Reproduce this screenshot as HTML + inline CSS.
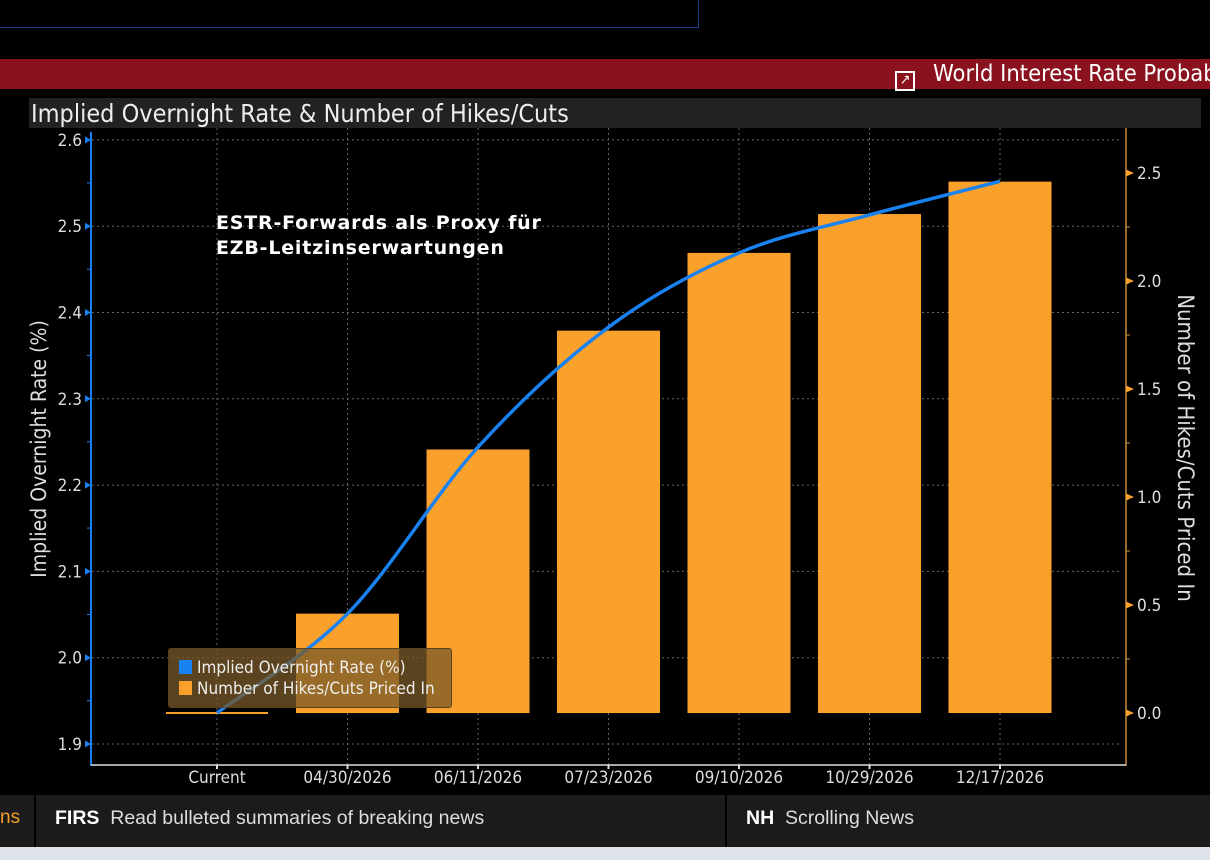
<!DOCTYPE html>
<html><head><meta charset="utf-8">
<style>
body{margin:0;width:1210px;height:860px;background:#000;overflow:hidden;font-family:"Liberation Sans","DejaVu Sans",sans-serif;position:relative}
.abs{position:absolute}
</style></head>
<body>
<div class="abs" style="left:-2px;top:-2px;width:699px;height:29px;border:1px solid #1c3f8a;border-top:none"></div>
<div class="abs" style="left:0;top:59px;width:1210px;height:30px;background:#8a121e"></div>
<div class="abs" style="left:895px;top:59px;color:#fff;font-size:23.5px;white-space:nowrap;font-family:'DejaVu Sans Condensed','Liberation Sans',sans-serif"><span style="display:inline-block;width:20px;height:20px;border:2px solid #fff;box-sizing:border-box;vertical-align:-3px;margin-right:18px;font-size:14px;line-height:14px;text-align:center">&#8599;</span>World Interest Rate Probab</div>
<div class="abs" style="left:29px;top:98px;width:1172px;height:30px;background:#222"></div>
<div class="abs" style="left:31px;top:99px;color:#eee;font-size:25px;font-family:'DejaVu Sans Condensed','Liberation Sans',sans-serif">Implied Overnight Rate &amp; Number of Hikes/Cuts</div>
<svg class="abs" style="left:0;top:0" width="1210" height="860" id="chart"></svg>
<div class="abs" style="left:216px;top:211px;color:#fff;font-weight:bold;font-size:19px;line-height:25px;letter-spacing:0.8px;font-family:'DejaVu Sans','Liberation Sans',sans-serif">ESTR-Forwards als Proxy für<br>EZB-Leitzinserwartungen</div>
<div class="abs" style="left:168px;top:648px;width:282px;height:58px;background:rgba(120,90,40,0.75);border:1px solid #5a4020;border-radius:3px;font-family:'DejaVu Sans Condensed','Liberation Sans',sans-serif;font-size:17px;color:#eee">
 <div style="position:absolute;left:10px;top:9px;white-space:nowrap"><span style="display:inline-block;width:13px;height:14px;background:#1a82f0;vertical-align:-1px;margin-right:5px"></span>Implied Overnight Rate (%)</div>
 <div style="position:absolute;left:10px;top:30px;white-space:nowrap"><span style="display:inline-block;width:13px;height:14px;background:#f9a12b;vertical-align:-1px;margin-right:5px"></span>Number of Hikes/Cuts Priced In</div>
</div>
<div class="abs" style="left:0;top:795px;width:1210px;height:52px;background:#1b1b1b"></div>
<div class="abs" style="left:34px;top:795px;width:2px;height:52px;background:#000"></div>
<div class="abs" style="left:725px;top:795px;width:2px;height:52px;background:#000"></div>
<div class="abs" style="left:0;top:807px;color:#f39c2b;font-size:19px">ns</div>
<div class="abs" style="left:55px;top:807px;color:#ddd;font-size:19.5px;white-space:nowrap"><b style="color:#fff">FIRS</b>&nbsp; Read bulleted summaries of breaking news</div>
<div class="abs" style="left:746px;top:807px;color:#ddd;font-size:19.5px;white-space:nowrap"><b style="color:#fff">NH</b>&nbsp; Scrolling News</div>
<div class="abs" style="left:0;top:847px;width:1210px;height:13px;background:#dfe3ea"></div>
<script>
const categories=["Current","04/30/2026","06/11/2026","07/23/2026","09/10/2026","10/29/2026","12/17/2026"];
const hikes=[0,0.46,1.22,1.77,2.13,2.31,2.46];
const rates=[1.936,2.051,2.244,2.383,2.469,2.513,2.552];
const leftTicks=["1.9","2.0","2.1","2.2","2.3","2.4","2.5","2.6"];
const rightTicks=["0.0","0.5","1.0","1.5","2.0","2.5"];
const NS="http://www.w3.org/2000/svg";
const svg=document.getElementById('chart');
const yL=v=>744-(v-1.9)*863;
const yR=v=>713-v*216;
const xC=i=>217+i*130.5;
const FF='DejaVu Sans Condensed, Liberation Sans, sans-serif';
function mk(t,a,p){const e=document.createElementNS(NS,t);for(const k in a)e.setAttribute(k,a[k]);(p||svg).appendChild(e);return e;}
leftTicks.forEach(t=>{const y=yL(+t);const g=mk('line',{x1:92,x2:1122,y1:y,y2:y,stroke:'#666','stroke-dasharray':'2,3'});

});
categories.forEach((c,i)=>{const g=mk('line',{x1:xC(i),x2:xC(i),y1:128,y2:765,stroke:'#666','stroke-dasharray':'2,3'});

});
hikes.forEach((v,i)=>{let r;
if(v===0){r=mk('rect',{x:xC(i)-51,y:yR(0)-1,width:102,height:2,fill:'#f9a12b'});}
else r=mk('rect',{x:xC(i)-51.5,y:yR(v),width:103,height:yR(0)-yR(v),fill:'#f9a12b'});

});
const pts=rates.map((v,i)=>[xC(i),yL(v)]);
let d='M'+pts[0];
for(let i=0;i<pts.length-1;i++){const p0=pts[Math.max(0,i-1)],p1=pts[i],p2=pts[i+1],p3=pts[Math.min(pts.length-1,i+2)];
const c1=[p1[0]+(p2[0]-p0[0])/6,p1[1]+(p2[1]-p0[1])/6],c2=[p2[0]-(p3[0]-p1[0])/6,p2[1]-(p3[1]-p1[1])/6];
d+=' C'+c1+' '+c2+' '+p2;}
const ln=mk('path',{d:d,fill:'none',stroke:'#1a82f0','stroke-width':3.5});


const la=mk('line',{x1:91,x2:91,y1:132,y2:766,stroke:'#1a82f0','stroke-width':2});


const ra=mk('line',{x1:1126,x2:1126,y1:128,y2:766,stroke:'#c98a3c','stroke-width':1.5});


const ba=mk('line',{x1:91,x2:1126,y1:765,y2:765,stroke:'#ddd','stroke-width':1.5});


leftTicks.forEach(t=>{const y=yL(+t);
mk('path',{d:`M85 ${y-3.5} L91 ${y} L85 ${y+3.5}Z`,fill:'#1a82f0'});
if(y+43<765) mk('line',{x1:87,x2:91,y1:y+43,y2:y+43,stroke:'#1a82f0'});
const tx=mk('text',{x:82,y:y+6,'text-anchor':'end',fill:'#ddd','font-size':17,'font-family':FF});tx.textContent=t;

});
rightTicks.forEach(t=>{const y=yR(+t);
mk('path',{d:`M1126 ${y-3.5} L1134 ${y} L1126 ${y+3.5}Z`,fill:'#f9a12b'});
if(y-54>130) mk('line',{x1:1126,x2:1130,y1:y-54,y2:y-54,stroke:'#c98a3c'});
const tx=mk('text',{x:1137,y:y+6,fill:'#ddd','font-size':17,'font-family':FF});tx.textContent=t;

});
categories.forEach((c,i)=>{
mk('line',{x1:xC(i),x2:xC(i),y1:765,y2:769,stroke:'#ddd','stroke-width':2});
const tx=mk('text',{x:xC(i),y:783,'text-anchor':'middle',fill:'#ddd','font-size':17,'font-family':FF});tx.textContent=c;

});
const yt=mk('text',{transform:'translate(46,449) rotate(-90)','text-anchor':'middle',fill:'#ddd','font-size':21,'font-family':FF});yt.textContent='Implied Overnight Rate (%)';


const rt=mk('text',{transform:'translate(1178,448) rotate(90)','text-anchor':'middle',fill:'#ddd','font-size':22,'font-family':FF});rt.textContent='Number of Hikes/Cuts Priced In';


</script>
</body></html>
